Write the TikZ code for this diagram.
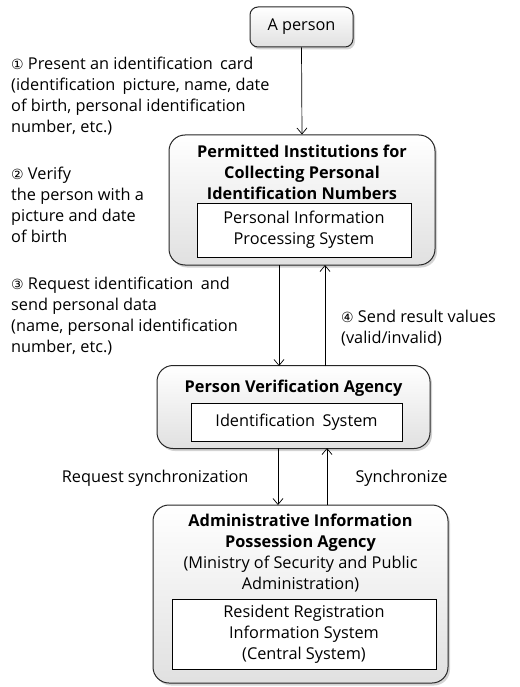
\documentclass[tikz,border=0pt]{standalone}
\usepackage{fontspec}
\setmainfont{Open Sans}
\newfontfamily\circfont{DejaVu Sans}
\usetikzlibrary{arrows.meta,shadows}
\newcommand{\circnum}[1]{{\circfont\fontsize{14}{21}\selectfont #1}}
\newcommand{\wsp}{\hspace{0.45em}}
\begin{document}
\begin{tikzpicture}[x=1pt,y=-1pt,
  every node/.style={font=\fontsize{16.3}{21}\selectfont},
  agency/.style={draw=black!85, line width=1pt, rounded corners=16pt,
    top color=white, bottom color=black!12,
    drop shadow={opacity=0.35, shadow xshift=2pt, shadow yshift=-2.5pt}},
  sysbox/.style={draw=black, line width=0.7pt, fill=white, align=center},
  title/.style={align=center, font=\fontsize{16.3}{21}\selectfont\bfseries},
  note/.style={align=left, inner sep=0pt},
  flow/.style={draw=black, line width=0.7pt, -{Straight Barb[length=6pt,width=10pt]}}
]
\useasboundingbox (0,0) rectangle (519,687);

% A person
\node[agency, rounded corners=8pt, minimum width=103pt, minimum height=40pt] (person) at (301.5,27) {};
\node at (person.center) {A person};

% Permitted institutions
\node[agency, minimum width=266pt, minimum height=130pt] (inst) at (302,200) {};
\node[title] (instt) at (302,172) {Permitted Institutions for\\Collecting Personal\\Identification Numbers};
\node[sysbox, minimum width=214pt, minimum height=54pt] (pips) at (304,230) {Personal Information\\Processing System};

% Person verification agency
\node[agency, minimum width=273pt, minimum height=83pt] (pva) at (293.5,407) {};
\node[title] (pvat) at (293.5,388) {Person Verification Agency};
\node[sysbox, minimum width=211pt, minimum height=38pt] (ids) at (296.5,422) {Identification\wsp System};

% Administrative information possession agency
\node[agency, minimum width=295pt, minimum height=178pt] (aipa) at (300.5,594) {};
\node[align=center] (aipat) at (300.5,553) {\bfseries Administrative Information\\\bfseries Possession Agency\\(Ministry of Security and Public\\Administration)};
\node[sysbox, minimum width=264pt, minimum height=70pt] (rris) at (304,634) {Resident Registration\\Information System\\(Central System)};

% Connectors
\coordinate (d1s) at (279,265);  \coordinate (d1e) at (279,366);
\coordinate (u1s) at (325,366);  \coordinate (u1e) at (325,265);
\coordinate (d2s) at (278,448);  \coordinate (d2e) at (278,505);
\coordinate (u2s) at (327,505);  \coordinate (u2e) at (327,448);
\draw[flow] (person.south) -- (inst.north);
\draw[flow] (d1s) -- (d1e);
\draw[flow] (u1s) -- (u1e);
\draw[flow] (d2s) -- (d2e);
\draw[flow] (u2s) -- (u2e);

% Step notes
\node[note, anchor=north west] (n1) at (11,57) {\circnum{①} Present an identification\wsp card\\(identification\wsp picture, name, date\\of birth, personal identification\\number, etc.)};
\node[note, anchor=north west] (n2) at (11,167) {\circnum{②} Verify\\the person with a\\picture and date\\of birth};
\node[note, anchor=north west] (n3) at (11,277) {\circnum{③} Request identification\wsp and\\send personal data\\(name, personal identification\\number, etc.)};
\node[note, anchor=north west] (n4) at (341,310) {\circnum{④} Send result values\\(valid/invalid)};
\node[anchor=east] (n5) at (252,478) {Request synchronization};
\node[anchor=west] (n6) at (352,478) {Synchronize};
\end{tikzpicture}
\end{document}
